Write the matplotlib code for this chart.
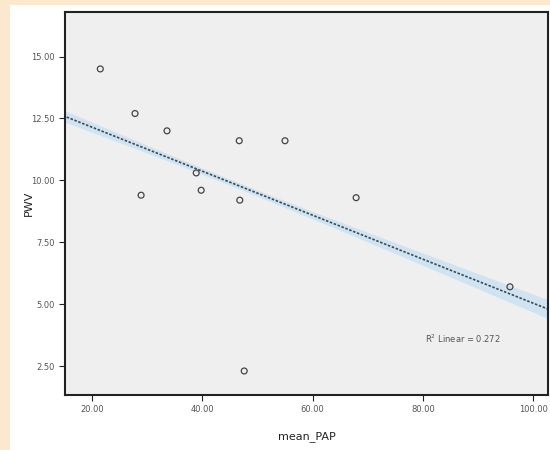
import numpy as np
import matplotlib
matplotlib.use('Agg')
from matplotlib import pyplot as plt
from matplotlib.patches import Rectangle

# values
mean_pap = [21.5, 27.8, 28.9, 33.6, 38.9, 39.8, 46.7, 46.8, 47.6, 55.0, 67.9, 95.8]
pwv = [14.5, 12.7, 9.4, 12.0, 10.3, 9.6, 11.6, 9.2, 2.3, 11.6, 9.3, 5.7]

x_ticks = [20, 40, 60, 80, 100]
y_ticks = [2.5, 5.0, 7.5, 10.0, 12.5, 15.0]
r2_label = "R$^2$ Linear = 0.272"

fig = plt.figure(figsize=(5.5, 4.5), dpi=100, facecolor='#fbe9cf')
fig.add_artist(Rectangle((10 / 550, 0), 1, 1 - 5 / 450, transform=fig.transFigure,
                         facecolor='white', edgecolor='none', zorder=-10))

ax = fig.add_axes([65 / 550, 1 - 395 / 450, 483 / 550, 383 / 450])
ax.set_facecolor('#efefef')

x = np.array(mean_pap)
y = np.array(pwv)
slope, intercept = np.polyfit(x, y, 1)
xs = np.linspace(14, 104, 100)
fit = slope * xs + intercept

# confidence band for the fitted mean (narrow, as drawn)
n = len(x)
resid = y - (slope * x + intercept)
s = np.sqrt(np.sum(resid ** 2) / (n - 2))
se = s * np.sqrt(1 / n + (xs - x.mean()) ** 2 / np.sum((x - x.mean()) ** 2))
ax.fill_between(xs, fit - 0.15 * se, fit + 0.15 * se, color='#cde2f2', alpha=0.9, lw=0)
ax.plot(xs, fit, color='#3a4a55', lw=1.2, ls=(0, (1.5, 1)))

ax.scatter(x, y, s=18, facecolors='none', edgecolors='#444444', linewidths=0.9, zorder=3)

ax.text(94, 3.6, r2_label, fontsize=6, color='#555555', ha='right', va='center')

ax.set_xlim(15.1, 102.7)
ax.set_ylim(1.33, 16.8)
ax.set_xticks(x_ticks)
ax.set_xticklabels([f"{v:.2f}" for v in x_ticks])
ax.set_yticks(y_ticks)
ax.set_yticklabels([f"{v:.2f}" for v in y_ticks])
ax.tick_params(labelsize=6, colors='#222222', direction='out', length=4, labelcolor='#555555')
for sp in ax.spines.values():
    sp.set_color('#222222')
    sp.set_linewidth(1.5)

ax.set_xlabel('mean_PAP', fontsize=8, color='#222222', labelpad=12)
ax.set_ylabel('PWV', fontsize=8, color='#222222', labelpad=-2)

plt.savefig('out.png', format='png', dpi=100, facecolor=fig.get_facecolor())
plt.close()
